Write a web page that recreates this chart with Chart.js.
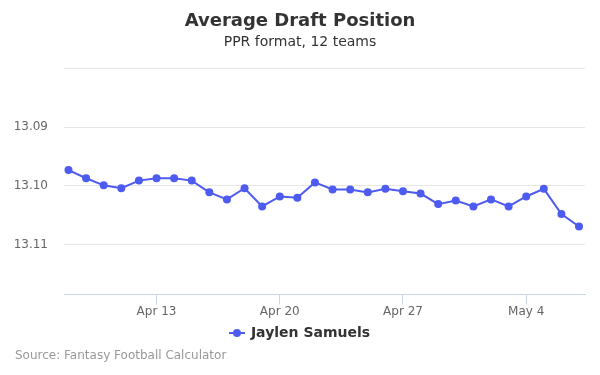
<!DOCTYPE html>
<html>
<head>
<meta charset="utf-8">
<script src="https://cdn.jsdelivr.net/npm/chart.js@4"></script>
<style>
  html, body { margin: 0; padding: 0; background: #fff; }
</style>
</head>
<body>
<canvas id="adpChart" width="600" height="375"></canvas>
<script>
const FONT = "'DejaVu Sans', sans-serif";

// one point per day, Apr 8 - May 6
const days = ['Apr 8', 'Apr 9', 'Apr 10', 'Apr 11', 'Apr 12', 'Apr 13', 'Apr 14', 'Apr 15',
  'Apr 16', 'Apr 17', 'Apr 18', 'Apr 19', 'Apr 20', 'Apr 21', 'Apr 22', 'Apr 23', 'Apr 24',
  'Apr 25', 'Apr 26', 'Apr 27', 'Apr 28', 'Apr 29', 'Apr 30', 'May 1', 'May 2', 'May 3',
  'May 4', 'May 5', 'May 6'];
const adp = [13.0973, 13.0987, 13.0999, 13.1004, 13.0991, 13.0987, 13.0987, 13.0991,
  13.1011, 13.1023, 13.1004, 13.1035, 13.1018, 13.1020, 13.0994, 13.1006, 13.1006,
  13.1011, 13.1005, 13.1009, 13.1013, 13.1031, 13.1025, 13.1035, 13.1023, 13.1035,
  13.1018, 13.1005, 13.1048, 13.1069];
const xTickLabels = ['Apr 13', 'Apr 20', 'Apr 27', 'May 4'];
const yTicks = [13.08, 13.09, 13.10, 13.11];

const points = adp.map((v, i) => ({ x: i, y: v }));

// legend symbol: short line with a dot
const sym = document.createElement('canvas');
sym.width = 16; sym.height = 10;
const sctx = sym.getContext('2d');
sctx.strokeStyle = '#4e5bf0';
sctx.lineWidth = 2;
sctx.beginPath(); sctx.moveTo(0, 5); sctx.lineTo(16, 5); sctx.stroke();
sctx.fillStyle = '#4e5bf0';
sctx.beginPath(); sctx.arc(8, 5, 4, 0, Math.PI * 2); sctx.fill();

const sourceNote = {
  id: 'sourceNote',
  afterDraw(chart) {
    const c = chart.ctx;
    c.save();
    c.font = '12px ' + FONT;
    c.fillStyle = '#999999';
    c.textBaseline = 'middle';
    c.textAlign = 'left';
    c.fillText('Source: Fantasy Football Calculator', 15, 356);
    c.restore();
  }
};

new Chart(document.getElementById('adpChart'), {
  type: 'line',
  data: {
    datasets: [{
      label: 'Jaylen Samuels',
      data: points,
      borderColor: '#4e5bf0',
      backgroundColor: '#4e5bf0',
      borderWidth: 2,
      pointRadius: 4,
      pointBorderWidth: 0,
      pointHoverRadius: 5,
      pointStyle: 'circle',
      tension: 0
    }]
  },
  options: {
    responsive: false,
    animation: false,
    devicePixelRatio: 1,
    layout: { padding: { left: 0, right: 0, top: 0, bottom: 25 } },
    plugins: {
      title: {
        display: true,
        text: 'Average Draft Position',
        color: '#333333',
        font: { family: FONT, size: 18, weight: 'bold' },
        padding: { top: 11, bottom: 1 }
      },
      subtitle: {
        display: true,
        text: 'PPR format, 12 teams',
        color: '#333333',
        font: { family: FONT, size: 14 },
        padding: { bottom: 18 }
      },
      legend: {
        position: 'bottom',
        labels: {
          usePointStyle: true,
          pointStyle: sym,
          color: '#333333',
          font: { family: FONT, size: 14, weight: 'bold' },
          padding: 4
        }
      },
      tooltip: { enabled: false }
    },
    scales: {
      x: {
        type: 'linear',
        min: -0.256,
        max: 29.34,
        afterBuildTicks: s => { s.ticks = xTickLabels.map(l => ({ value: days.indexOf(l) })); },
        afterFit: s => { s.paddingRight = 15; s.paddingLeft = 0; s.height += 3; },
        ticks: {
          callback: v => days[v],
          color: '#666666',
          font: { family: FONT, size: 12 },
          padding: 0,
          maxRotation: 0
        },
        grid: {
          drawOnChartArea: false,
          drawTicks: true,
          tickLength: 10,
          tickColor: '#ccd6eb'
        },
        border: { color: '#ccd6eb', width: 1 }
      },
      y: {
        reverse: true,
        min: 13.08,
        max: 13.1185,
        afterBuildTicks: s => { s.ticks = yTicks.map(v => ({ value: v })); },
        afterFit: s => { s.width = 64; },
        ticks: {
          callback: v => (v === yTicks[0] ? '' : v.toFixed(2)),
          color: '#666666',
          font: { family: FONT, size: 12 },
          padding: 16
        },
        grid: { color: '#e6e6e6', drawTicks: false },
        border: { display: false }
      }
    }
  },
  plugins: [sourceNote]
});
</script>
</body>
</html>
